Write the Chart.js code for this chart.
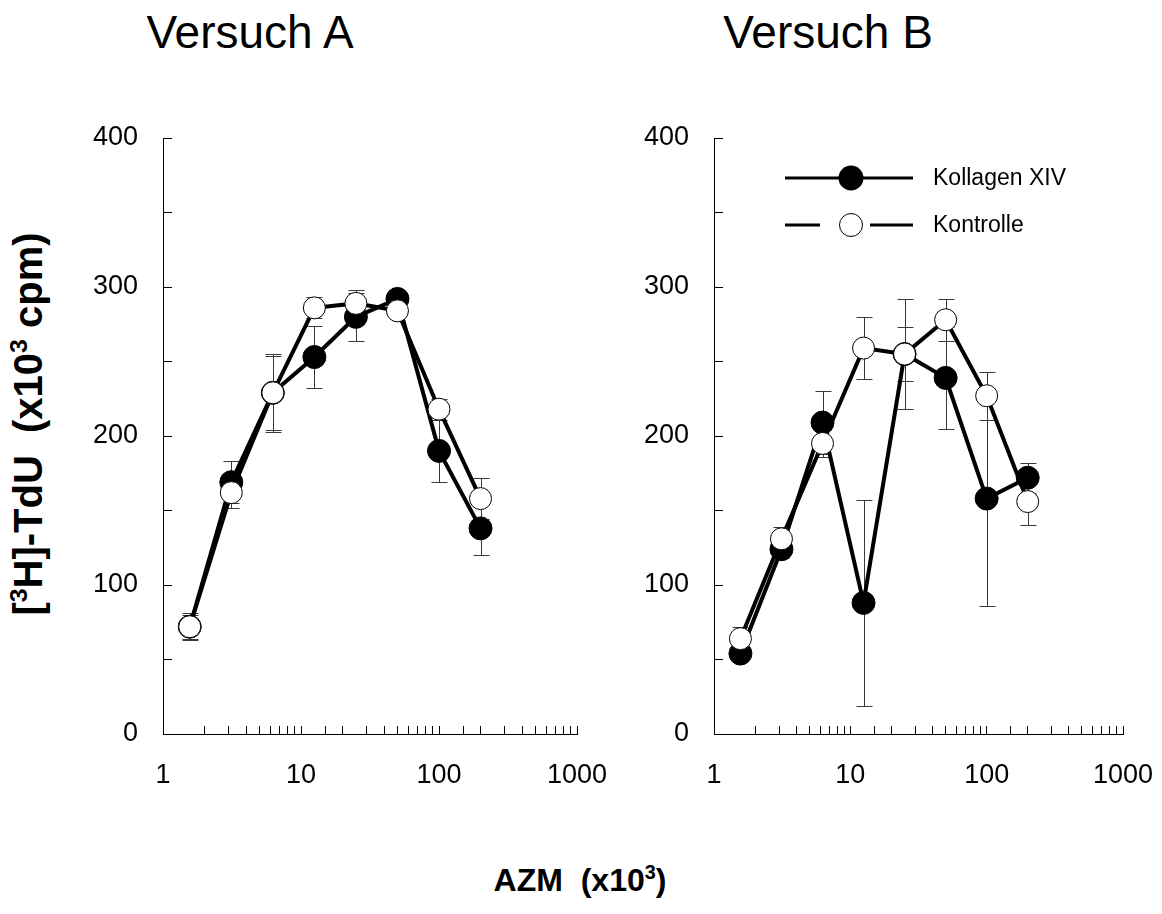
<!DOCTYPE html>
<html>
<head>
<meta charset="utf-8">
<script src="https://cdn.jsdelivr.net/npm/chart.js@4.4.1/dist/chart.umd.min.js"></script>
<style>
    body { margin: 0; background: #fff; width: 1162px; height: 914px; position: relative; overflow: hidden;
           font-family: 'Liberation Sans', Arial, sans-serif; color: #000; }
    canvas { position: absolute; top: 0; }
    #chartA { left: 0; }
    #chartB { left: 560px; }
    .title { position: absolute; top: 9px; font-size: 46px; line-height: 46px; transform: translateX(-50%); white-space: nowrap; }
    .axis-title { position: absolute; font-weight: bold; white-space: nowrap; }
    #ytitle { left: 28px; top: 424px; font-size: 40px; transform: translate(-50%, -50%) rotate(-90deg); }
    #xtitle { left: 580px; top: 880px; font-size: 32px; transform: translate(-50%, -50%); }
    sup { font-size: 0.62em; vertical-align: 0.6em; line-height: 0; }
</style>
</head>
<body>
<div class="title" style="left:250px">Versuch A</div>
<div class="title" style="left:828px">Versuch B</div>
<div class="axis-title" id="ytitle">[<sup>3</sup>H]-TdU&nbsp; (x10<sup>3</sup> cpm)</div>
<div class="axis-title" id="xtitle">AZM&nbsp; (x10<sup>3</sup>)</div>
<canvas id="chartA" width="620" height="820"></canvas>
<canvas id="chartB" width="602" height="820"></canvas>
<script>
// AZM concentrations (x10^3)
const azm = [1.5625, 3.125, 6.25, 12.5, 25, 50, 100, 200];

// Versuch A
const kollagenA = [72, 169, 229, 253, 280, 292, 190, 138];
const kollagenAErr = [8, 14, 26, 21, 16, 3, 21, 18];
const kontrolleA = [72, 162, 229, 286, 289, 284, 218, 158];
const kontrolleAErr = [9, 10, 25, 7, 9, 3, 7, 14];

// Versuch B
const kollagenB = [54, 124, 209, 88, 255, 239, 158, 172];
const kollagenBErr = [4, 6, 21, 69, 37, 34, 72, 10];
const kontrolleB = [64, 131, 195, 259, 255, 278, 227, 156];
const kontrolleBErr = [8, 8, 9, 21, 18, 14, 16, 16];

const xTickLabels = [1, 10, 100, 1000];
const yTickLabels = [0, 100, 200, 300, 400];

const FONT = "'Liberation Sans', Arial, sans-serif";

function points(values) {
    return azm.map((x, i) => ({ x: x, y: values[i] }));
}

const errorBars = {
    id: 'errorBars',
    beforeDatasetsDraw(chart) {
        const { ctx, scales: { x, y } } = chart;
        ctx.save();
        ctx.strokeStyle = '#3a3a3a';
        ctx.lineWidth = 1;
        chart.data.datasets.forEach(ds => {
            ds.data.forEach((p, i) => {
                const e = ds.errors[i];
                const px = Math.round(x.getPixelForValue(p.x)) + 0.5;
                const top = Math.round(y.getPixelForValue(p.y + e)) + 0.5;
                const bot = Math.round(y.getPixelForValue(p.y - e)) + 0.5;
                ctx.beginPath();
                ctx.moveTo(px, top); ctx.lineTo(px, bot);
                ctx.moveTo(px - 8, top); ctx.lineTo(px + 8, top);
                ctx.moveTo(px - 8, bot); ctx.lineTo(px + 8, bot);
                ctx.stroke();
            });
        });
        ctx.restore();
    }
};

const legendPlugin = {
    id: 'customLegend',
    afterDraw(chart) {
        const ctx = chart.ctx;
        ctx.save();
        ctx.strokeStyle = '#000';
        ctx.lineWidth = 3;
        // Kollagen XIV
        ctx.beginPath(); ctx.moveTo(225, 178); ctx.lineTo(353, 178); ctx.stroke();
        ctx.beginPath(); ctx.arc(291, 178, 12.5, 0, Math.PI * 2);
        ctx.fillStyle = '#000'; ctx.fill();
        // Kontrolle
        ctx.beginPath(); ctx.moveTo(225, 225); ctx.lineTo(260, 225);
        ctx.moveTo(310, 225); ctx.lineTo(353, 225); ctx.stroke();
        ctx.beginPath(); ctx.arc(291, 225, 11.5, 0, Math.PI * 2);
        ctx.fillStyle = '#fff'; ctx.fill();
        ctx.lineWidth = 1; ctx.stroke();
        ctx.fillStyle = '#000';
        ctx.font = '23px ' + FONT;
        ctx.textBaseline = 'middle';
        ctx.fillText('Kollagen XIV', 373, 179);
        ctx.fillText('Kontrolle', 373, 226);
        ctx.restore();
    }
};

function makeChart(id, kol, kolErr, kon, konErr, yWidth, padRight, withLegend) {
    const ctx = document.getElementById(id).getContext('2d');
    return new Chart(ctx, {
        type: 'line',
        data: {
            datasets: [{
                label: 'Kontrolle',
                data: points(kon),
                errors: konErr,
                borderColor: '#000',
                borderWidth: 4,
                pointRadius: 11,
                pointBorderWidth: 1,
                pointBackgroundColor: '#fff',
                pointBorderColor: '#000',
                order: 0
            }, {
                label: 'Kollagen XIV',
                data: points(kol),
                errors: kolErr,
                borderColor: '#000',
                borderWidth: 4,
                pointRadius: 11.5,
                pointBorderWidth: 1,
                pointBackgroundColor: '#000',
                pointBorderColor: '#000',
                order: 1
            }]
        },
        options: {
            responsive: false,
            animation: false,
            layout: { padding: { left: 0, right: padRight, top: 138, bottom: 0 } },
            plugins: { legend: { display: false }, tooltip: { enabled: false } },
            scales: {
                x: {
                    type: 'logarithmic',
                    min: 1,
                    max: 1000,
                    border: { color: '#000', width: 1 },
                    grid: { drawOnChartArea: false, drawTicks: true, tickLength: -8, tickColor: '#000' },
                    ticks: {
                        autoSkip: false,
                        maxRotation: 0,
                        padding: 33,
                        color: '#000',
                        font: { size: 27, family: FONT },
                        callback: v => xTickLabels.find(t => Math.abs(t - v) < 1e-6) ? String(Math.round(v)) : ''
                    },
                    afterFit: s => { s.height = 86; s.paddingLeft = 0; s.paddingRight = 0; }
                },
                y: {
                    min: 0,
                    max: 400,
                    border: { color: '#000', width: 1 },
                    grid: { drawOnChartArea: false, drawTicks: true, tickLength: -9, tickColor: '#000' },
                    ticks: {
                        stepSize: 50,
                        padding: 34,
                        color: '#000',
                        font: { size: 27, family: FONT },
                        callback: v => yTickLabels.includes(v) ? String(v) : ''
                    },
                    afterFit: s => { s.width = yWidth; }
                }
            }
        },
        plugins: withLegend ? [errorBars, legendPlugin] : [errorBars]
    });
}

makeChart('chartA', kollagenA, kollagenAErr, kontrolleA, kontrolleAErr, 163, 43, false);
makeChart('chartB', kollagenB, kollagenBErr, kontrolleB, kontrolleBErr, 154, 39, true);
</script>
</body>
</html>
